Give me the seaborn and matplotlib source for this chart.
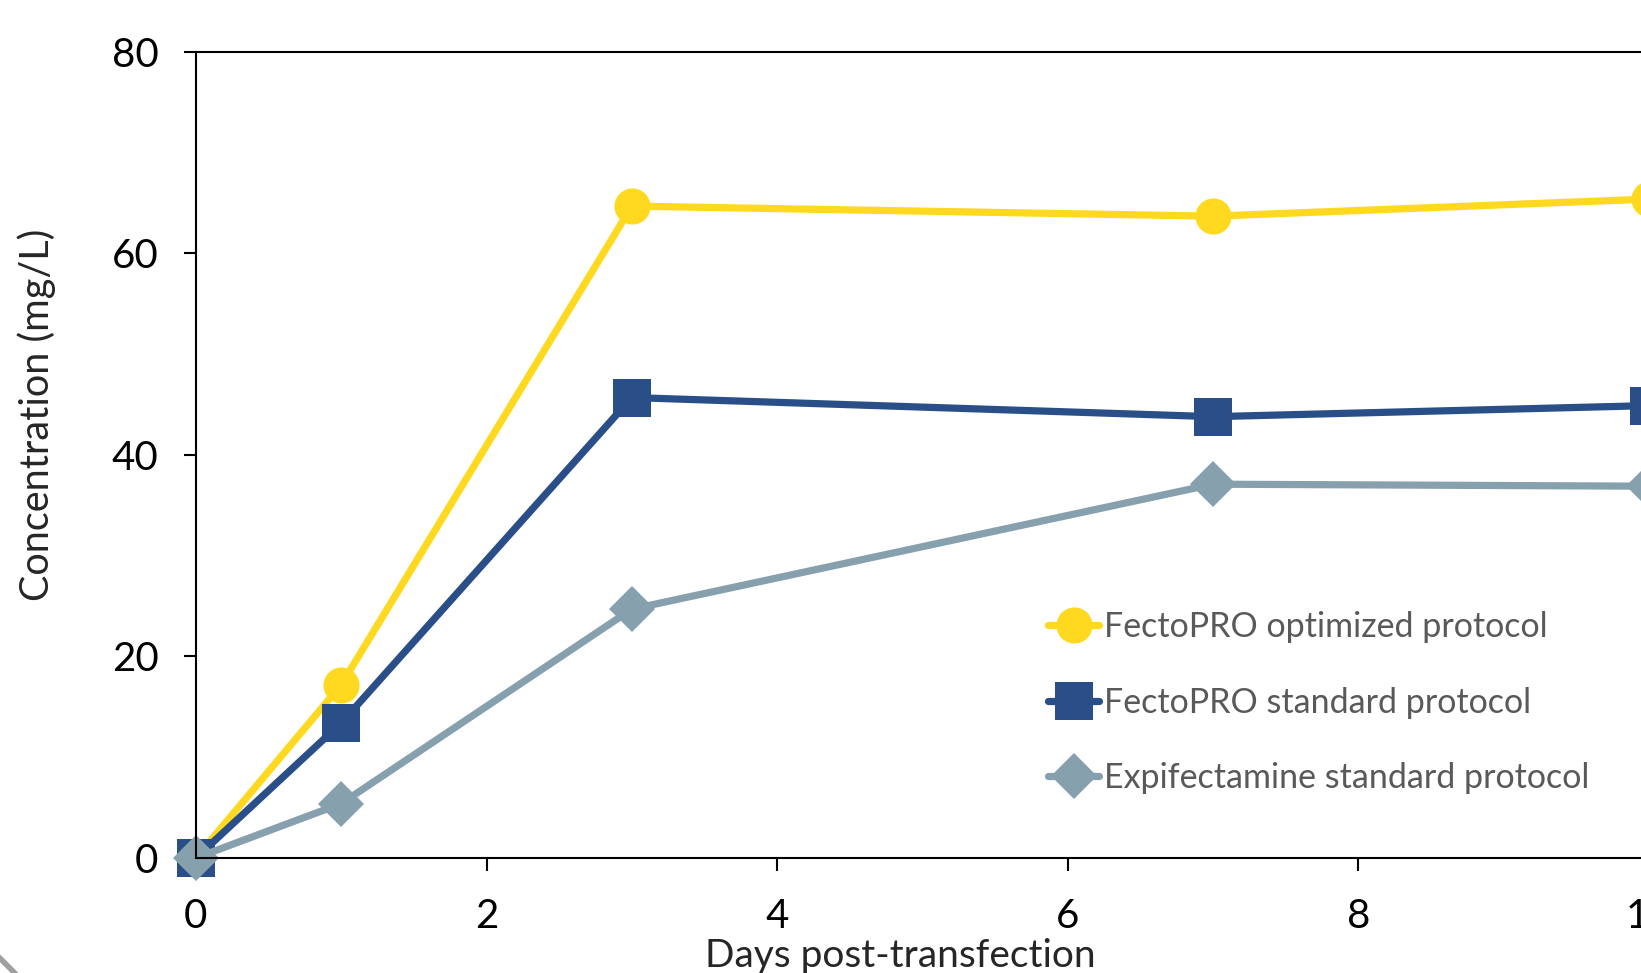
import pandas as pd
import seaborn as sns
import matplotlib.pyplot as plt
from matplotlib.lines import Line2D

# Dados
dias = [0, 1, 3, 7, 10]
fectopro_otimizado = [0, 17.2, 64.7, 63.7, 65.4]
fectopro_padrao = [0, 13.4, 45.7, 43.8, 44.9]
expifectamine_padrao = [0, 5.4, 24.7, 37.1, 36.9]

nomes = ['FectoPRO optimized protocol', 'FectoPRO standard protocol',
         'Expifectamine standard protocol']
cores = ['#FFD920', '#2A4F88', '#87A0AE']
marcadores = ['o', 's', 'D']
tamanhos = [26, 28, 23]

series = [fectopro_otimizado, fectopro_padrao, expifectamine_padrao]

sns.set_style('white')
plt.rcParams['font.family'] = ['Lato', 'DejaVu Sans']

fig = plt.figure(figsize=(16.41, 9.73), dpi=100)
ax = fig.add_axes([0.1194, 0.1182, 0.8855, 0.8284])

for nome, valores, cor, m, ms in zip(nomes, series, cores, marcadores, tamanhos):
    df = pd.DataFrame({'dia': dias, 'conc': valores})
    sns.lineplot(data=df, x='dia', y='conc', ax=ax, color=cor, linewidth=5.2,
                 marker=m, markersize=ms, markeredgewidth=0, clip_on=False,
                 label=nome)

ax.set_xlim(0, 10)
ax.set_ylim(0, 80)
ax.set_xticks([0, 2, 4, 6, 8, 10])
ax.set_yticks([0, 20, 40, 60, 80])
ax.tick_params(axis='both', labelsize=29, length=9, width=1.5, direction='out',
               colors='black')
ax.tick_params(axis='x', bottom=True, pad=20)
ax.tick_params(axis='y', left=True, pad=18)
for lado in ['left', 'bottom', 'top']:
    ax.spines[lado].set_color('black')
    ax.spines[lado].set_linewidth(1.5)
ax.spines['right'].set_visible(False)

ax.set_xlabel('Days post-transfection', fontsize=28)
ax.set_ylabel('Concentration (mg/L)', fontsize=28.5)
ax.xaxis.set_label_coords(0.485, -0.099)
ax.yaxis.set_label_coords(-0.096, 0.55)

# legenda no estilo Excel: traço curto com marcador no meio
handles = [Line2D([], [], color=c, linewidth=5.2, marker=m, markersize=ms,
                  markeredgewidth=0)
           for c, m, ms in zip(cores, marcadores, tamanhos)]
leg = ax.legend(handles, nomes, loc='upper left', bbox_to_anchor=(0.577, 0.323),
                frameon=False, fontsize=24.5, handlelength=1.5, handletextpad=0.15,
                labelspacing=1.28, borderaxespad=0)
for t in leg.get_texts():
    t.set_color('#595959')

# linha decorativa no canto inferior esquerdo
fig.add_artist(Line2D([-0.004, 0.016], [0.022, -0.012], color='#A0A0A0',
                      linewidth=4, transform=fig.transFigure))

fig.savefig('out.png', dpi=100)
